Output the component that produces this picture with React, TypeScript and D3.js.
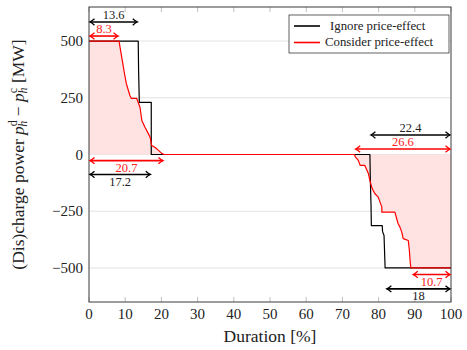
import { useEffect, useRef } from "react";
import * as d3 from "d3";

// duration [%], power [MW]
const ignoreCurve: [number, number][] = [
  [0, 500], [13.6, 500], [13.7, 370], [13.9, 230], [17.2, 230], [17.2, 0],
  [77.6, 0], [77.7, -100], [77.9, -220], [78.0, -313], [81.0, -313], [81.1, -340],
  [81.5, -357], [81.8, -500], [100, -500]
];

const considerCurve: [number, number][] = [
  [0, 500], [8.3, 500], [8.6, 470], [9.2, 414], [9.8, 357], [10.3, 313], [11.3, 260],
  [11.7, 247], [13.2, 247], [14.1, 207], [14.6, 150], [15.5, 119], [16.4, 92], [16.9, 75],
  [17.3, 40], [18.3, 31], [19.2, 18], [20.1, 5], [20.7, 0],
  [73.4, 0], [73.5, -9], [74.4, -26], [74.9, -48], [76.2, -48], [77.2, -85], [77.6, -115],
  [78.1, -144], [78.5, -159], [79.0, -173], [79.9, -188], [80.4, -210], [80.9, -232],
  [80.9, -254], [84.5, -254], [85.0, -283], [85.4, -305], [85.9, -320], [86.4, -342],
  [86.8, -371], [88.2, -379], [88.5, -423], [88.7, -467], [88.9, -500], [100, -500]
];

const xTicks = [0, 10, 20, 30, 40, 50, 60, 70, 80, 90, 100];
const yTicks = [-500, -250, 0, 250, 500];

const seriesNames = ["Ignore price-effect", "Consider price-effect"];

// duration spans marked with double arrows, level in MW
const spans = [
  { from: 0, to: 13.6, level: 584, label: "13.6", series: 0, side: "above" },
  { from: 0, to: 8.3, level: 522, label: "8.3", series: 1, side: "above" },
  { from: 0, to: 20.7, level: -27, label: "20.7", series: 1, side: "below" },
  { from: 0, to: 17.2, level: -88, label: "17.2", series: 0, side: "below" },
  { from: 77.6, to: 100, level: 86, label: "22.4", series: 0, side: "above" },
  { from: 73.4, to: 100, level: 24, label: "26.6", series: 1, side: "above" },
  { from: 89.3, to: 100, level: -529, label: "10.7", series: 1, side: "below" },
  { from: 82, to: 100, level: -592, label: "18", series: 0, side: "below" }
];

const colors = ["#000000", "#ff0000"];
const font = '"Liberation Serif", "DejaVu Serif", serif';

export default function App() {
  const svgRef = useRef<SVGSVGElement | null>(null);

  useEffect(() => {
    const svg = d3.select(svgRef.current);
    svg.selectAll("*").remove();

    const width = 467;
    const height = 350;
    const margin = { top: 7, right: 16, bottom: 48, left: 89 };
    svg.attr("width", width).attr("height", height).style("font-family", font);

    const x = d3.scaleLinear().domain([0, 100]).range([margin.left, width - margin.right]);
    const y = d3.scaleLinear().domain([-650, 650]).range([height - margin.bottom, margin.top]);

    // gridlines
    svg
      .append("g")
      .attr("stroke", "#dcdcdc")
      .attr("stroke-width", 0.8)
      .selectAll("line")
      .data(yTicks)
      .join("line")
      .attr("x1", x(0))
      .attr("x2", x(100))
      .attr("y1", (d) => y(d))
      .attr("y2", (d) => y(d));

    // tick marks inside frame
    const tickLen = 5;
    const ticks = svg.append("g").attr("stroke", "#b0b0b0").attr("stroke-width", 0.8);
    xTicks.forEach((t) => {
      ticks.append("line").attr("x1", x(t)).attr("x2", x(t)).attr("y1", y(-650)).attr("y2", y(-650) - tickLen);
      ticks.append("line").attr("x1", x(t)).attr("x2", x(t)).attr("y1", y(650)).attr("y2", y(650) + tickLen);
    });

    // shaded area for the price-effect curve
    const area = d3
      .area<[number, number]>()
      .x((d) => x(d[0]))
      .y0(y(0))
      .y1((d) => y(d[1]));
    svg.append("path").attr("d", area(considerCurve)).attr("fill", "#ffe2e2").attr("stroke", "none");

    const line = d3
      .line<[number, number]>()
      .x((d) => x(d[0]))
      .y((d) => y(d[1]));

    [ignoreCurve, considerCurve].forEach((curve, i) => {
      svg
        .append("path")
        .attr("d", line(curve))
        .attr("fill", "none")
        .attr("stroke", colors[i])
        .attr("stroke-width", 1.2)
        .attr("stroke-linejoin", "round");
    });

    // frame
    svg
      .append("rect")
      .attr("x", x(0))
      .attr("y", y(650))
      .attr("width", x(100) - x(0))
      .attr("height", y(-650) - y(650))
      .attr("fill", "none")
      .attr("stroke", "#3a3a3a")
      .attr("stroke-width", 1);

    // axis labels
    svg
      .append("g")
      .selectAll("text")
      .data(xTicks)
      .join("text")
      .attr("x", (d) => x(d))
      .attr("y", y(-650) + 17)
      .attr("text-anchor", "middle")
      .style("font-size", "15px")
      .attr("fill", "#222")
      .text((d) => d);

    svg
      .append("g")
      .selectAll("text")
      .data(yTicks)
      .join("text")
      .attr("x", x(0) - 6)
      .attr("y", (d) => y(d) + 5)
      .attr("text-anchor", "end")
      .style("font-size", "15px")
      .attr("fill", "#222")
      .text((d) => (d < 0 ? "\u2212" + Math.abs(d) : String(d)));

    svg
      .append("text")
      .attr("x", (x(0) + x(100)) / 2)
      .attr("y", height - 8)
      .attr("text-anchor", "middle")
      .style("font-size", "17.5px")
      .attr("fill", "#222")
      .text("Duration [%]");

    const yl = svg
      .append("text")
      .attr("transform", `translate(24,${(y(650) + y(-650)) / 2}) rotate(-90)`)
      .attr("text-anchor", "middle")
      .style("font-size", "17.5px")
      .attr("fill", "#222");
    yl.append("tspan").text("(Dis)charge power ");
    yl.append("tspan").attr("font-style", "italic").text("p");
    yl.append("tspan").style("font-size", "12px").attr("dy", -7).text("d");
    yl.append("tspan").style("font-size", "12px").attr("font-style", "italic").attr("dx", -6.5).attr("dy", 10).text("h");
    yl.append("tspan").attr("dy", -3).text(" \u2212 ");
    yl.append("tspan").attr("font-style", "italic").text("p");
    yl.append("tspan").style("font-size", "12px").attr("dy", -7).text("c");
    yl.append("tspan").style("font-size", "12px").attr("font-style", "italic").attr("dx", -5.5).attr("dy", 10).text("h");
    yl.append("tspan").attr("dy", -3).text(" [MW]");

    // double arrows
    const head = (px: number, py: number, dir: number) =>
      `M${px - dir * 4.5},${py - 3.2} Q${px - dir * 1.5},${py - 0.6} ${px},${py} Q${px - dir * 1.5},${py + 0.6} ${px - dir * 4.5},${py + 3.2}`;
    const arrows = svg.append("g").attr("fill", "none");
    spans.forEach((s) => {
      const c = colors[s.series];
      const x1 = x(s.from) + 1;
      const x2 = x(s.to) - 1;
      const yy = y(s.level);
      arrows.append("line").attr("x1", x1).attr("x2", x2).attr("y1", yy).attr("y2", yy).attr("stroke", c).attr("stroke-width", 1.6);
      arrows.append("path").attr("d", head(x1, yy, -1) + head(x2, yy, 1)).attr("stroke", c).attr("stroke-width", 1.3);
      svg
        .append("text")
        .attr("x", (x1 + x2) / 2)
        .attr("y", s.side === "above" ? yy - 3 : yy + 11.5)
        .attr("text-anchor", "middle")
        .style("font-size", "12.5px")
        .attr("fill", s.series === 1 ? "#ff2020" : "#222")
        .text(s.label);
    });

    // legend
    const lg = svg.append("g").attr("transform", "translate(289,15)");
    lg.append("rect").attr("width", 160).attr("height", 38).attr("fill", "#fff").attr("stroke", "#3a3a3a").attr("stroke-width", 0.8);
    seriesNames.forEach((name, i) => {
      const ly = 11 + i * 16.5;
      lg.append("line").attr("x1", 5).attr("x2", 31).attr("y1", ly).attr("y2", ly).attr("stroke", colors[i]).attr("stroke-width", 1.6);
      lg.append("text")
        .attr("x", i === 0 ? 41 : 36)
        .attr("y", ly + 3.5)
        .style("font-size", "12.8px")
        .attr("fill", "#222")
        .text(name);
    });
  }, []);

  return <svg ref={svgRef} style={{ position: "absolute", left: 0, top: 0 }} />;
}
